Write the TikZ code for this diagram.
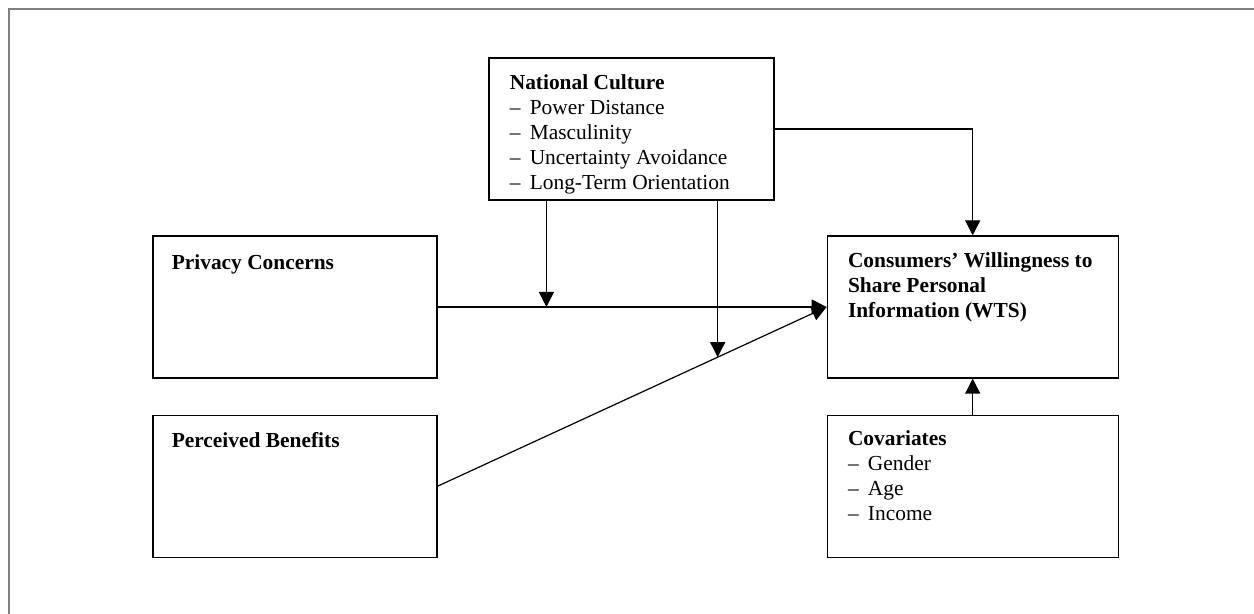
\documentclass[tikz,border=0pt]{standalone}
\usepackage{fontspec}
\setmainfont{Liberation Serif}
\usetikzlibrary{positioning, calc, arrows.meta}

\newcommand{\dashitem}[1]{\makebox[10pt][l]{--}#1}

\begin{document}
\begin{tikzpicture}[x=0.5pt, y=-0.5pt, >={Triangle[length=7.5pt,width=7.5pt]},
	box/.style={draw, line width=0.6pt, minimum height=71pt, inner sep=0pt},
	boxtext/.style={inner sep=0pt, align=left, font=\fontsize{10.7pt}{12.5pt}\selectfont},
	link/.style={->, line width=0.6pt}]
		\useasboundingbox (0,0) rectangle (1254,614);
		
		% Frame
		\draw[gray, line width=1pt] (9,614) -- (9,9) -- (1254,9);
		
		% Nodes
		\node[box, minimum width=142.5pt] (nc) at (631.5,129) {};
		\node[box, minimum width=142pt] (pc) at (295,307) {};
		\node[box, minimum width=142pt, below=18pt of pc] (pb) {};
		\node[box, minimum width=145.5pt, right=194.5pt of pc] (wts) {};
		\node[box, minimum width=145.5pt, below=18pt of wts] (cov) {};
		
		% Texts
		\node[boxtext, below right=8.5pt and 10.5pt of nc.north west] (nctext) {\textbf{National Culture}\\
			\dashitem{Power Distance}\\
			\dashitem{Masculinity}\\
			\dashitem{Uncertainty Avoidance}\\
			\dashitem{Long-Term Orientation}};
		\node[boxtext, below right=9.5pt and 9.5pt of pc.north west] (pctext) {\textbf{Privacy Concerns}};
		\node[boxtext, below right=8.5pt and 9.5pt of pb.north west] (pbtext) {\textbf{Perceived Benefits}};
		\node[boxtext, below right=8.5pt and 10.5pt of wts.north west] (wtstext) {\textbf{Consumers' Willingness to}\\
			\textbf{Share Personal}\\
			\textbf{Information (WTS)}};
		\node[boxtext, below right=8pt and 10.5pt of cov.north west] (covtext) {\textbf{Covariates}\\
			\dashitem{Gender}\\
			\dashitem{Age}\\
			\dashitem{Income}};
		
		% Helper coordinates
		\coordinate (ncleft) at ($(nc.south west)+(58,0)$);
		\coordinate (onbenefit) at ($(pb.east)!0.72!(wts.west)$);
		
		% Main effects
		\draw[link] (pc.east) -- (wts.west);
		\draw[link] (pb.east) -- (wts.west);
		
		% Moderating arrows
		\draw[link] (ncleft) -- (ncleft |- pc.east);
		\draw[link] (onbenefit |- nc.south) -- (onbenefit);
		\draw[link] (nc.east) -| (wts.north);
		
		% Covariates arrow
		\draw[link] (cov.north) -- (wts.south);
	\end{tikzpicture}
\end{document}
